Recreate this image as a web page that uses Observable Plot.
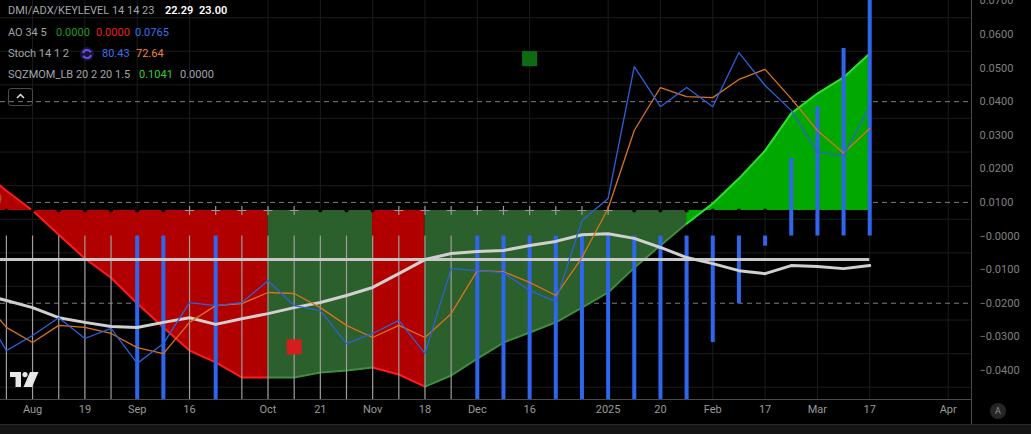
<!DOCTYPE html>
<html><head><meta charset="utf-8">
<script src="https://cdn.jsdelivr.net/npm/d3@7"></script>
<script src="https://cdn.jsdelivr.net/npm/@observablehq/plot@0.6"></script>
<style>
html,body{margin:0;padding:0;background:#000;width:1031px;height:434px;overflow:hidden}
#wrap{position:relative;width:1031px;height:434px;background:#000}
#chart svg{display:block}
#strip{position:absolute;left:0;top:424px;width:1031px;height:10px;background:#141414;border-top:1px solid #2a2a2a;box-sizing:border-box}
#vsep{position:absolute;left:971px;top:0;width:1px;height:424px;background:#4a4a4a}
#hsep{position:absolute;left:0;top:399px;width:971px;height:1px;background:#4a4a4a}
#abtn{position:absolute;left:990px;top:403px;width:16px;height:16px;border-radius:8px;background:#262626;color:#8e8e8e;font:9px Roboto,sans-serif;text-align:center;line-height:16px}
#legend{position:absolute;left:0;top:0;width:400px;height:110px;font-family:Roboto,"Liberation Sans",sans-serif;font-size:11px;color:#a2a5ac}
#legend span{position:absolute;white-space:nowrap;line-height:14px}
#btn{position:absolute;left:8px;top:88px;width:25px;height:18px;border:1px solid #4a4a4a;border-radius:3px;box-sizing:border-box}
#logo{position:absolute;left:10px;top:372px}
</style></head>
<body>
<div id="wrap">
  <div id="chart"></div>
  <div id="vsep"></div><div id="hsep"></div>
  <div id="strip"></div>
  <div id="abtn">A</div>
  <div id="legend"></div>
  <div id="btn"><svg width="23" height="16"><path d="M8 9 L11.5 5.5 L15 9" stroke="#e0e0e0" stroke-width="1.5" fill="none"/></svg></div>
  <svg id="logo" width="30" height="16"><path d="M0 0 H11 V15 H5.5 V5 H0 Z" fill="#e8e8e8"/><circle cx="15" cy="2.6" r="2.6" fill="#e8e8e8"/><path d="M20 0 H28.5 L22 15 H13.5 Z" fill="#e8e8e8"/></svg>
</div>
<script>
// ---- data (weekly, Monday dates) ----
const weeks = ["2024-07-22","2024-07-29","2024-08-05","2024-08-12","2024-08-19","2024-08-26","2024-09-02","2024-09-09","2024-09-16","2024-09-23","2024-09-30","2024-10-07","2024-10-14","2024-10-21","2024-10-28","2024-11-04","2024-11-11","2024-11-18","2024-11-25","2024-12-02","2024-12-09","2024-12-16","2024-12-23","2024-12-30","2025-01-06","2025-01-13","2025-01-20","2025-01-27","2025-02-03","2025-02-10","2025-02-17","2025-02-24","2025-03-03","2025-03-10","2025-03-17"];
// squeeze momentum (area from its baseline)
const sqzBase = 0.0076;
const sqzMom = [0.0198,0.0135,0.0076,0.0004,-0.0067,-0.0124,-0.0201,-0.0272,-0.0341,-0.0376,-0.0421,-0.0421,-0.0421,-0.0406,-0.0400,-0.0391,-0.0412,-0.0448,-0.0415,-0.0365,-0.0317,-0.0287,-0.0257,-0.0213,-0.0168,-0.0094,-0.0028,0.0037,0.0097,0.0171,0.0254,0.0365,0.0424,0.0472,0.0543];
const sqzColor = ["red","red","red","red","red","red","red","red","red","red","red","green","green","green","green","red","red","green","green","green","green","green","green","green","green","green","green","lime","lime","lime","lime","lime","lime","lime","lime"];
const sqzDot = [null,"off","off","off","off","off","off","off","on","on","on","on","on","off","off","off","on","on","on","on","on","on","on","on","on","off","off","off","off","off","off","off","off","off","off"];
// DMI / ADX / key level
const adx = [-0.0171,-0.0192,-0.0213,-0.0243,-0.0257,-0.0269,-0.0272,-0.0257,-0.0243,-0.0263,-0.0246,-0.0231,-0.0213,-0.0198,-0.0177,-0.0153,-0.0112,-0.0070,-0.0052,-0.0046,-0.0043,-0.0028,-0.0016,0.0004,0.0007,-0.0007,-0.0034,-0.0064,-0.0082,-0.0103,-0.0112,-0.0088,-0.0091,-0.0097,-0.0088];
const keyLevel = -0.0070;
// Stoch
const stochK = [-0.0210,-0.0341,-0.0296,-0.0243,-0.0305,-0.0275,-0.0379,-0.0320,-0.0198,-0.0207,-0.0198,-0.0133,-0.0207,-0.0222,-0.0320,-0.0290,-0.0251,-0.0350,-0.0097,-0.0103,-0.0109,-0.0162,-0.0195,0.0046,0.0112,0.0504,0.0385,0.0442,0.0385,0.0546,0.0448,0.0374,0.0249,0.0240,0.0385];
const stochD = [-0.0180,-0.0272,-0.0317,-0.0266,-0.0272,-0.0290,-0.0332,-0.0350,-0.0257,-0.0207,-0.0201,-0.0168,-0.0171,-0.0213,-0.0266,-0.0302,-0.0266,-0.0302,-0.0231,-0.0103,-0.0106,-0.0138,-0.0177,-0.0064,0.0082,0.0314,0.0442,0.0415,0.0412,0.0466,0.0496,0.0409,0.0314,0.0247,0.0320];
const bandLevels = [0.04, 0.01, -0.02];
// AO histogram
const aoHist = [null,-0.06,-0.06,-0.06,-0.06,-0.06,-0.06,-0.06,-0.06,-0.06,-0.06,-0.06,-0.06,-0.06,-0.06,-0.06,-0.06,-0.06,-0.06,-0.06,-0.06,-0.06,-0.06,-0.06,-0.06,-0.06,-0.06,-0.06,-0.0317,-0.0201,-0.0030,0.0231,0.0385,0.0558,0.0750];
const aoColor = [null,"gray","gray","gray","gray","gray","blue","blue","gray","blue","gray","gray","gray","gray","gray","gray","gray","gray","gray","blue","blue","blue","blue","blue","blue","blue","blue","blue","blue","blue","blue","blue","blue","blue","blue"];
// signal squares
const squareDates = ["2024-10-14","2024-12-16"];
const squareValues = [-0.0330, 0.0528];
const squareColors = ["#d41e1e","#0d6b12"];
// marker at left edge
const markerDates = ["2024-07-25"];
const markerValues = [0.0112];
// axes
const yTicks = [0.07,0.06,0.05,0.04,0.03,0.02,0.01,0,-0.01,-0.02,-0.03,-0.04];
const yGrid = [0.065,0.055,0.045,0.035,0.025,0.015,0.005,-0.005,-0.015,-0.025,-0.035,-0.045];
const xTickDates = ["2024-08-05","2024-08-19","2024-09-02","2024-09-16","2024-10-07","2024-10-21","2024-11-04","2024-11-18","2024-12-02","2024-12-16","2025-01-06","2025-01-20","2025-02-03","2025-02-17","2025-03-03","2025-03-17","2025-04-07"];
const xTickLabels = ["Aug","19","Sep","16","Oct","21","Nov","18","Dec","16","2025","20","Feb","17","Mar","17","Apr"];
// legend
const legendRows = [
  [["DMI/ADX/KEYLEVEL 14 14 23","#a2a5ac",8],["22.29","#ffffff",165,true],["23.00","#ffffff",199,true]],
  [["AO 34 5","#a2a5ac",8],["0.0000","#1f9a22",56],["0.0000","#e8201f",96],["0.0765","#3f6ef2",135]],
  [["Stoch 14 1 2","#a2a5ac",8],["80.43","#3f6ef2",102],["72.64","#f0843c",136]],
  [["SQZMOM_LB 20 2 20 1.5","#a2a5ac",8],["0.1041","#2fd12f",139],["0.0000","#a2a5ac",180]]
];
const legendTops = [4, 26, 47, 68];

// ---- build ----
const data = weeks.map((w, i) => ({
  date: new Date(w), sqz: sqzMom[i], sc: sqzColor[i], dot: sqzDot[i],
  adx: adx[i], k: stochK[i], d: stochD[i], h: aoHist[i], hc: aoColor[i]
}));
const sqzFill = {red: "#b00000", green: "#2b5f2b", lime: "#00a800"};
const sqzEdge = {red: "#ff1b1b", green: "#3f8f3f", lime: "#2ee02e"};
const tickDates = xTickDates.map(d => new Date(d));
const labelMap = new Map(tickDates.map((d, i) => [+d, xTickLabels[i]]));
const squares = squareDates.map((d, i) => ({date: new Date(d), v: squareValues[i], c: squareColors[i]}));
const markers = markerDates.map((d, i) => ({date: new Date(d), v: markerValues[i]}));

const base = Date.UTC(2024, 6, 29), wk = 7 * 864e5;
const xDomain = [new Date(base - 0.2255 * wk), new Date(base + 36.89 * wk)];

const chart = Plot.plot({
  width: 1031, height: 424,
  marginLeft: 0, marginRight: 60, marginTop: 0, marginBottom: 25,
  style: {background: "#000", color: "#8a8a8a", fontFamily: "Roboto, 'Liberation Sans', sans-serif", fontSize: "11px", overflow: "visible"},
  x: {type: "utc", domain: xDomain},
  y: {domain: [-0.04865, 0.0701]},
  color: {type: "identity"},
  marks: [
    Plot.ruleY(yGrid, {stroke: "#1c1c1c"}),
    Plot.ruleX(tickDates, {stroke: "#1c1c1c"}),
    Plot.ruleY(bandLevels, {stroke: "#7a7a7a", strokeDasharray: "5,4"}),
    Plot.areaY(data, {x: "date", y1: sqzBase, y2: "sqz", fill: d => sqzFill[d.sc], z: null, clip: true}),
    Plot.lineY(data, {x: "date", y: "sqz", stroke: d => sqzEdge[d.sc], z: null, strokeWidth: 2, clip: true}),
    Plot.dot(markers, {x: "date", y: "v", r: 10, fill: "#b0601c", fillOpacity: 0.8, clip: true}),
    Plot.dot(data.filter(d => d.dot === "off"), {x: "date", y: sqzBase, r: 2, fill: "#000"}),
    Plot.dot(data.filter(d => d.dot === "on"), {x: "date", y: sqzBase, symbol: "plus", r: 3, stroke: "#9a9a9a", strokeWidth: 1.2}),
    Plot.ruleX(data.filter(d => d.hc === "gray"), {x: "date", y1: 0, y2: "h", stroke: "#9e9e9e", strokeWidth: 1.2, clip: true}),
    Plot.ruleX(data.filter(d => d.hc === "blue"), {x: "date", y1: 0, y2: "h", stroke: "#2f66ee", strokeWidth: 4, clip: true}),
    Plot.ruleY([keyLevel], {x1: data[0].date, x2: data[data.length - 1].date, stroke: "#c8c8c8", strokeWidth: 3, clip: true}),
    Plot.lineY(data, {x: "date", y: "adx", stroke: "#d0d0d0", strokeWidth: 3, clip: true}),
    Plot.lineY(data, {x: "date", y: "d", stroke: "#d8731f", strokeWidth: 1.3, clip: true}),
    Plot.lineY(data, {x: "date", y: "k", stroke: "#2f60da", strokeWidth: 1.3, clip: true}),
    Plot.dot(squares, {x: "date", y: "v", symbol: "square", r: 8.5, fill: "c"}),
    Plot.axisY({anchor: "right", ticks: yTicks, tickSize: 0, tickPadding: 8, label: null, color: "#808080",
      tickFormat: v => (v <= 0 ? "\u2212" : "") + Math.abs(v).toFixed(4)}),
    Plot.axisX({ticks: tickDates, tickSize: 0, tickPadding: 6, label: null, color: "#9a9a9a",
      tickFormat: d => labelMap.get(+d)})
  ]
});
document.getElementById("chart").appendChild(chart);

const legend = document.getElementById("legend");
legendRows.forEach((row, r) => {
  row.forEach(([text, color, x, bold]) => {
    const s = document.createElement("span");
    s.textContent = text;
    s.style.color = color; s.style.left = x + "px"; s.style.top = legendTops[r] + "px";
    if (bold) s.style.fontWeight = "600";
    legend.appendChild(s);
  });
});
const icon = document.createElementNS("http://www.w3.org/2000/svg", "svg");
icon.setAttribute("width", "16"); icon.setAttribute("height", "16");
icon.style.position = "absolute"; icon.style.left = "79px"; icon.style.top = "46px";
icon.innerHTML = '<circle cx="8" cy="8" r="7" fill="#2a1f5a" opacity="0.6"/><path d="M4 7 A4.2 4.2 0 0 1 11.8 6.2" stroke="#6a4cf0" stroke-width="2" fill="none"/><path d="M12 9 A4.2 4.2 0 0 1 4.2 9.8" stroke="#6a4cf0" stroke-width="2" fill="none"/>';
legend.appendChild(icon);
</script>
</body></html>
